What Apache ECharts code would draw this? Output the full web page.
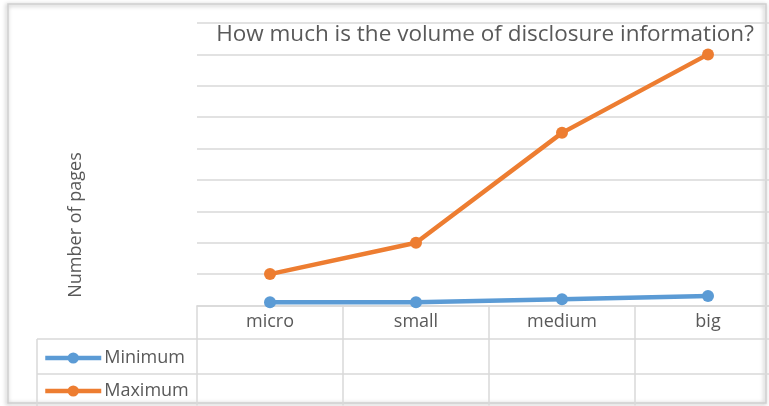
<!DOCTYPE html>
<html>
<head>
<meta charset="utf-8">
<script src="https://cdn.jsdelivr.net/npm/echarts@6/dist/echarts.min.js"></script>
<style>
  html, body { margin: 0; padding: 0; background: #ffffff; overflow: hidden; }
  /* the plot area runs slightly past the visible right edge */
  #chart { width: 781px; height: 406px; }
</style>
</head>
<body>
<div id="chart"></div>
<script>
// Company size categories and page counts for disclosure documents
const categories = ['micro', 'small', 'medium', 'big'];
const minimumPages = [10, 10, 20, 30];
const maximumPages = [100, 200, 550, 800];
const seriesNames = ['Minimum', 'Maximum'];

const chart = echarts.init(document.getElementById('chart'));
const textColor = '#595959';
const gridColor = '#d9d9d9';
const font = 'Open Sans';

const legendBase = {
  orient: 'vertical',
  left: 43,
  padding: 0,
  itemWidth: 56,
  itemHeight: 14,
  lineStyle: { width: 4.5 },
  textStyle: { fontFamily: font, fontSize: 18, color: textColor, padding: [0, 0, 0, -2] }
};

chart.setOption({
  animation: false,
  backgroundColor: '#ffffff',
  textStyle: { fontFamily: font },
  title: {
    text: 'How much is the volume of disclosure information?',
    left: 480,
    top: 18,
    textAlign: 'center',
    textStyle: { fontFamily: font, fontSize: 22.5, fontWeight: 'normal', color: textColor }
  },
  // one legend per data-table row
  legend: [
    Object.assign({}, legendBase, { top: 349, data: [seriesNames[0]] }),
    Object.assign({}, legendBase, { top: 382, data: [seriesNames[1]] })
  ],
  grid: { left: 197, top: 23, right: 0, bottom: 100.5, containLabel: false },
  xAxis: {
    type: 'category',
    data: categories,
    boundaryGap: true,
    axisLine: { lineStyle: { color: gridColor, width: 1.5 } },
    axisTick: { show: true, length: 100, lineStyle: { color: gridColor, width: 1.5 } },
    axisLabel: { color: textColor, fontFamily: font, fontSize: 18, margin: 7 }
  },
  yAxis: {
    type: 'value',
    min: 0,
    max: 900,
    interval: 100,
    axisLine: { show: false },
    axisTick: { show: false },
    axisLabel: { show: false },
    splitLine: { lineStyle: { color: gridColor, width: 1.5 } }
  },
  series: [
    {
      name: seriesNames[0],
      type: 'line',
      data: minimumPages,
      symbol: 'circle',
      symbolSize: 12,
      color: '#5B9BD5',
      lineStyle: { width: 4.5, color: '#5B9BD5' },
      itemStyle: { color: '#5B9BD5' }
    },
    {
      name: seriesNames[1],
      type: 'line',
      data: maximumPages,
      symbol: 'circle',
      symbolSize: 12,
      color: '#ED7D31',
      lineStyle: { width: 4.5, color: '#ED7D31' },
      itemStyle: { color: '#ED7D31' }
    }
  ],
  graphic: [
    // vertical axis title
    {
      type: 'text', x: 76, y: 225, rotation: Math.PI / 2,
      style: { text: 'Number of pages', fill: textColor, font: '18px "Open Sans"', align: 'center', verticalAlign: 'middle' },
      silent: true
    },
    // data-table row separators
    { type: 'line', shape: { x1: 37, y1: 339, x2: 781, y2: 339 }, style: { stroke: gridColor, lineWidth: 1.5 }, silent: true },
    { type: 'line', shape: { x1: 37, y1: 374, x2: 781, y2: 374 }, style: { stroke: gridColor, lineWidth: 1.5 }, silent: true },
    { type: 'line', shape: { x1: 37, y1: 339, x2: 37, y2: 406 }, style: { stroke: gridColor, lineWidth: 1.5 }, silent: true },
    // chart frame with soft shadow
    {
      type: 'rect', z: -1,
      shape: { x: 8, y: 4, width: 758, height: 399 },
      style: { fill: 'rgba(255,255,255,0)', stroke: '#cfcfcf', lineWidth: 1.5, shadowBlur: 4, shadowColor: 'rgba(0,0,0,0.35)', shadowOffsetX: -1, shadowOffsetY: 1 },
      silent: true
    }
  ]
});
</script>
</body>
</html>
